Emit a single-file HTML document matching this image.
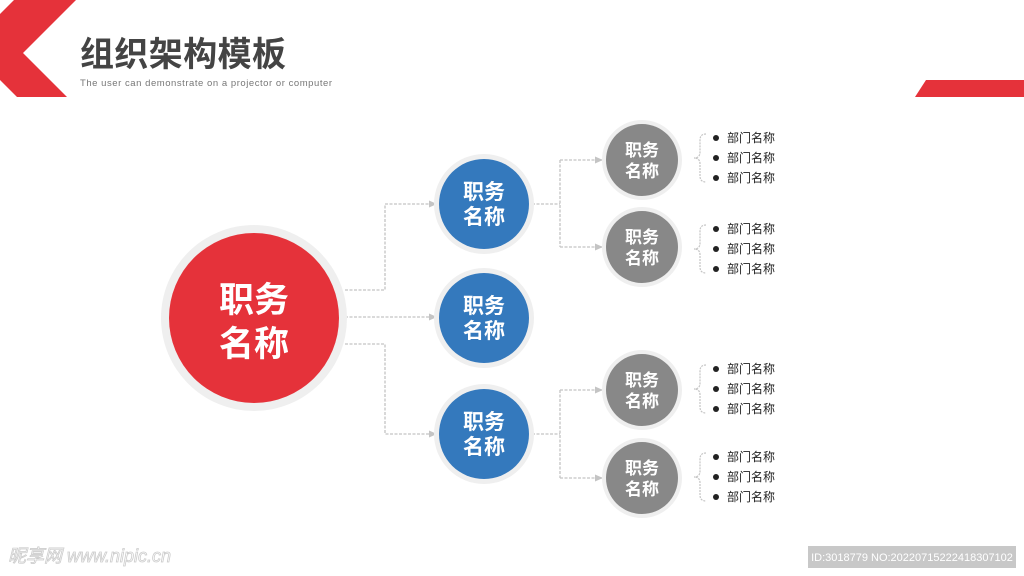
<!DOCTYPE html>
<html><head><meta charset="utf-8"><style>
body{margin:0;width:1024px;height:576px;background:#fff;overflow:hidden;font-family:"Liberation Sans","Noto Sans CJK SC",sans-serif;}
</style></head><body>
<svg width="1024" height="576" viewBox="0 0 1024 576" xmlns="http://www.w3.org/2000/svg" style="position:absolute;left:0;top:0">
<defs><marker id="a" markerWidth="8" markerHeight="8" refX="7" refY="4" orient="auto" markerUnits="userSpaceOnUse"><path d="M0,0.5 L8,4 L0,7.5z" fill="#c4c4c4"/></marker></defs>
<polygon points="14,0 76,0 23,53 67,97 17,97 0,80 0,14" fill="#e5323a"/>
<polygon points="926,80 1024,80 1024,97 915,97" fill="#e5323a"/>
<text x="80" y="66" font-size="34" font-weight="bold" fill="#444" textLength="206" font-family="Liberation Sans,Noto Sans CJK SC,sans-serif">组织架构模板</text>
<text x="80" y="86" font-size="9.5" fill="#777" textLength="252">The user can demonstrate on a projector or computer</text>
<g fill="none" stroke="#c4c4c4" stroke-width="1.3" stroke-dasharray="3,1.5">
<path d="M345,290 H385 V204 H436" marker-end="url(#a)"/>
<path d="M345,317 H436" marker-end="url(#a)"/>
<path d="M345,344 H385 V434 H436" marker-end="url(#a)"/>
<path d="M532,204 H560 M560,160 V247"/>
<path d="M532,434 H560 M560,390 V478"/>
<path d="M560,160 H602" marker-end="url(#a)"/><path d="M560,247 H602" marker-end="url(#a)"/>
<path d="M560,390 H602" marker-end="url(#a)"/><path d="M560,478 H602" marker-end="url(#a)"/>
</g>
<circle cx="254" cy="318" r="93" fill="#efefef"/><circle cx="254" cy="318" r="85" fill="#e5323a"/>
<text x="254" y="312" font-size="35" font-weight="bold" fill="#fff" text-anchor="middle">职务</text>
<text x="254" y="356" font-size="35" font-weight="bold" fill="#fff" text-anchor="middle">名称</text>
<g font-size="21" font-weight="bold" fill="#fff" text-anchor="middle">
<circle cx="484" cy="204" r="50" fill="#efefef"/><circle cx="484" cy="204" r="45" fill="#3479bd"/>
<text x="484" y="199">职务</text><text x="484" y="224">名称</text>
<circle cx="484" cy="318" r="50" fill="#efefef"/><circle cx="484" cy="318" r="45" fill="#3479bd"/>
<text x="484" y="313">职务</text><text x="484" y="338">名称</text>
<circle cx="484" cy="434" r="50" fill="#efefef"/><circle cx="484" cy="434" r="45" fill="#3479bd"/>
<text x="484" y="429">职务</text><text x="484" y="454">名称</text>
</g>
<g font-size="17" font-weight="bold" fill="#fff" text-anchor="middle">
<circle cx="642" cy="160" r="40" fill="#efefef"/><circle cx="642" cy="160" r="36" fill="#888"/>
<text x="642" y="156">职务</text><text x="642" y="177">名称</text>
<circle cx="642" cy="247" r="40" fill="#efefef"/><circle cx="642" cy="247" r="36" fill="#888"/>
<text x="642" y="243">职务</text><text x="642" y="264">名称</text>
<circle cx="642" cy="390" r="40" fill="#efefef"/><circle cx="642" cy="390" r="36" fill="#888"/>
<text x="642" y="386">职务</text><text x="642" y="407">名称</text>
<circle cx="642" cy="478" r="40" fill="#efefef"/><circle cx="642" cy="478" r="36" fill="#888"/>
<text x="642" y="474">职务</text><text x="642" y="495">名称</text>
</g>
<g fill="none" stroke="#c4c4c4" stroke-width="1.2" stroke-dasharray="2,1">
<path d="M706,134 Q700,134 700,140 V152 Q700,158 694,158 Q700,158 700,164 V176 Q700,182 706,182"/>
<path d="M706,225 Q700,225 700,231 V243 Q700,249 694,249 Q700,249 700,255 V267 Q700,273 706,273"/>
<path d="M706,365 Q700,365 700,371 V383 Q700,389 694,389 Q700,389 700,395 V407 Q700,413 706,413"/>
<path d="M706,453 Q700,453 700,459 V471 Q700,477 694,477 Q700,477 700,483 V495 Q700,501 706,501"/>
</g>
<g font-size="12" fill="#222">
<g transform="translate(0,138)"><circle cx="716" cy="0" r="3" fill="#222"/><text x="727" y="4">部门名称</text><circle cx="716" cy="20" r="3" fill="#222"/><text x="727" y="24">部门名称</text><circle cx="716" cy="40" r="3" fill="#222"/><text x="727" y="44">部门名称</text></g>
<g transform="translate(0,229)"><circle cx="716" cy="0" r="3" fill="#222"/><text x="727" y="4">部门名称</text><circle cx="716" cy="20" r="3" fill="#222"/><text x="727" y="24">部门名称</text><circle cx="716" cy="40" r="3" fill="#222"/><text x="727" y="44">部门名称</text></g>
<g transform="translate(0,369)"><circle cx="716" cy="0" r="3" fill="#222"/><text x="727" y="4">部门名称</text><circle cx="716" cy="20" r="3" fill="#222"/><text x="727" y="24">部门名称</text><circle cx="716" cy="40" r="3" fill="#222"/><text x="727" y="44">部门名称</text></g>
<g transform="translate(0,457)"><circle cx="716" cy="0" r="3" fill="#222"/><text x="727" y="4">部门名称</text><circle cx="716" cy="20" r="3" fill="#222"/><text x="727" y="24">部门名称</text><circle cx="716" cy="40" r="3" fill="#222"/><text x="727" y="44">部门名称</text></g>
</g>
<text x="8" y="562" font-size="18" fill="none" stroke="#ccc" stroke-width="0.8" font-style="italic">昵享网 www.nipic.cn</text>
<rect x="808" y="546" width="208" height="22" fill="#c8c8c8"/>
<text x="912" y="561" font-size="11" fill="#fff" text-anchor="middle">ID:3018779 NO:20220715222418307102</text>
</svg>
</body></html>
